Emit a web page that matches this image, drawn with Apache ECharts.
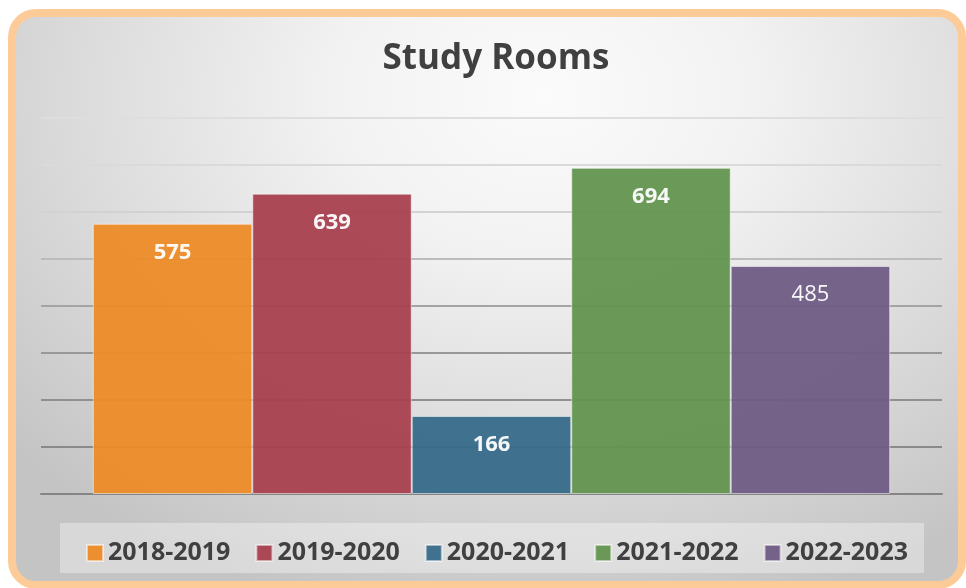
<!DOCTYPE html>
<html>
<head>
<meta charset="utf-8">
<script src="https://cdn.jsdelivr.net/npm/echarts@6/dist/echarts.min.js"></script>
<style>
  html, body { margin: 0; padding: 0; background: #ffffff; }
  #frame {
    position: absolute; left: 8px; top: 9px; width: 958px; height: 580px;
    box-sizing: border-box; border: 8px solid #fdcb98; border-radius: 28px;
    background: radial-gradient(ellipse 75% 95% at 56% 14%, #fbfbfb 0%, #f2f2f2 30%, #dcdcdc 65%, #c4c4c4 100%);
  }
  #main { position: absolute; left: 0; top: 0; width: 966px; height: 588px; }
</style>
</head>
<body>
<div id="frame"></div>
<div id="main"></div>
<script>
// chart data
var years = ['2018-2019', '2019-2020', '2020-2021', '2021-2022', '2022-2023'];
var rooms = [575, 639, 166, 694, 485];
var barColors = ['#ec8b27', '#a8414e', '#376a89', '#62944f', '#705c85'];
var yTicks = [0, 100, 200, 300, 400, 500, 600, 700, 800];

var chart = echarts.init(document.getElementById('main'));

var series = years.map(function (y, i) {
    return {
        name: y,
        type: 'bar',
        data: [rooms[i]],
        barGap: '0%',
        barCategoryGap: '11.5%',
        itemStyle: {
            color: barColors[i],
            opacity: 0.95,
            borderColor: 'rgba(255,255,255,0.55)',
            borderWidth: 1
        },
        label: {
            show: true,
            position: 'insideTop',
            distance: 18,
            color: '#ffffff',
            fontFamily: 'Open Sans',
            fontSize: 22,
            lineHeight: 22,
            fontWeight: i === 4 ? 'normal' : 'bold'
        }
    };
});

var option = {
    backgroundColor: 'transparent',
    animation: false,
    title: {
        text: 'Study Rooms',
        left: 491,
        textAlign: 'center',
        top: 37,
        textStyle: {
            fontFamily: 'Open Sans',
            fontSize: 35,
            fontWeight: 'bold',
            color: '#404040'
        }
    },
    graphic: [{
        type: 'rect',
        z: -1,
        shape: { x: 60, y: 523, width: 864, height: 50 },
        style: { fill: 'rgba(255,255,255,0.35)' }
    }],
    legend: {
        left: 81,
        top: 535,
        itemWidth: 16,
        itemHeight: 16,
        itemGap: 25,
        icon: 'rect',
        textStyle: {
            fontFamily: 'Open Sans',
            fontSize: 25,
            fontWeight: 'bold',
            color: '#404040',
            lineHeight: 26
        },
        data: years
    },
    grid: { left: 41, right: 24, top: 118, bottom: 94 },
    xAxis: {
        type: 'category',
        data: [''],
        axisTick: { show: false },
        axisLabel: { show: false },
        axisLine: { lineStyle: { color: '#858585', width: 2 } }
    },
    yAxis: {
        type: 'value',
        min: yTicks[0],
        max: yTicks[yTicks.length - 1],
        interval: 100,
        axisLabel: { show: false },
        axisLine: { show: false },
        splitLine: {
            lineStyle: {
                width: 2,
                color: ['#858585', '#8a8a8a', '#909090', '#989898', '#a4a4a4', '#bcbcbc', '#d2d2d2', '#dadada', '#dedede']
            }
        }
    },
    series: series
};

chart.setOption(option);
</script>
</body>
</html>
